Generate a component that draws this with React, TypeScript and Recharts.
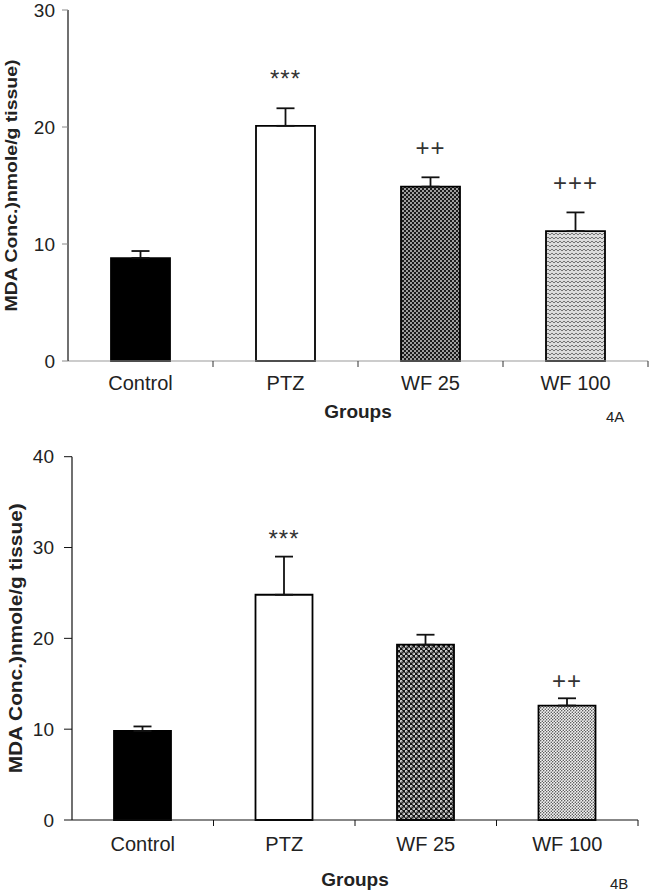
import React from 'react';
import { BarChart, Bar, Cell, XAxis, YAxis, ErrorBar, LabelList, Label } from 'recharts';

const groups = ['Control', 'PTZ', 'WF 25', 'WF 100'];

// 4A
const meansA = [8.8, 20.1, 14.9, 11.1];
const errsA = [0.6, 1.5, 0.8, 1.6];
const sigA = ['', '***', '++', '+++'];
const ticksA = [0, 10, 20, 30];

// 4B
const meansB = [9.8, 24.8, 19.3, 12.6];
const errsB = [0.5, 4.2, 1.1, 0.8];
const sigB = ['', '***', '', '++'];
const ticksB = [0, 10, 20, 30, 40];

const FONT = '"Liberation Sans", Arial, sans-serif';
const TITLE = 'MDA Conc.)nmole/g tissue)';

const buildRows = (means: number[], errs: number[], sig: string[]) =>
  groups.map((g, i) => ({ group: g, mean: means[i], err: [0, errs[i]], sig: sig[i] }));

// category label + tick mark on the right edge of each band
const CatTick = (props: any) => {
  const { x, y, payload, width, visibleTicksCount, labelDy, markColor } = props;
  let half = payload && payload.offset;
  if (!half) half = width && visibleTicksCount ? width / visibleTicksCount / 2 : 72;
  return (
    <g>
      <line x1={x + half} x2={x + half} y1={y} y2={y + 6} stroke={markColor} strokeWidth={1} />
      <text x={x} y={y + labelDy} textAnchor="middle" fontSize={20} fontFamily={FONT} fill="#222">
        {payload.value}
      </text>
    </g>
  );
};

const makeSig = (means: number[], errs: number[], gap: number) => (props: any) => {
  const { index, value } = props;
  if (!value) return null;
  const vb = props.viewBox || props;
  const { x, y, width, height } = vb;
  const perUnit = height / means[index];
  const top = y - errs[index] * perUnit;
  return (
    <text
      x={x + width / 2}
      y={top - gap}
      textAnchor="middle"
      dominantBaseline="central"
      fontSize={24}
      letterSpacing={1}
      fontFamily={FONT}
      fill="#333"
    >
      {value}
    </text>
  );
};

interface PanelProps {
  means: number[];
  errs: number[];
  sig: string[];
  ticks: number[];
  height: number;
  margin: { top: number; right: number; left: number; bottom: number };
  yWidth: number;
  xHeight: number;
  barSize: number;
  fills: string[];
  xLine: string;
  yTickLine: string;
  markColor: string;
  labelDy: number;
  groupsDy: number;
  sigGap: number;
  titleX: number;
  titleLen: number;
  titleSize: number;
  yTickSize: number;
  yTickMargin: number;
  tag: string;
  tagX: number;
  tagY: number;
  defs: React.ReactNode;
}

const Panel = (p: PanelProps) => {
  const rows = buildRows(p.means, p.errs, p.sig);
  const max = p.ticks[p.ticks.length - 1];
  return (
    <BarChart width={649} height={p.height} data={rows} margin={p.margin} barCategoryGap={0}>
      <defs>{p.defs}</defs>
      <XAxis
        dataKey="group"
        height={p.xHeight}
        axisLine={{ stroke: p.xLine, strokeWidth: 1.2 }}
        tickLine={false}
        tickSize={0}
        tickMargin={0}
        interval={0}
        tick={(t: any) => <CatTick {...t} labelDy={p.labelDy} markColor={p.markColor} />}
      >
        <Label
          content={(lp: any) => {
            const vb = lp.viewBox;
            return (
              <text x={vb.x + vb.width / 2} y={vb.y + p.groupsDy} textAnchor="middle" fontSize={19}
                fontWeight="bold" fontFamily={FONT} fill="#222">Groups</text>
            );
          }}
        />
      </XAxis>
      <YAxis
        width={p.yWidth}
        domain={[0, max]}
        ticks={p.ticks}
        interval={0}
        axisLine={{ stroke: '#111', strokeWidth: 1.2 }}
        tickLine={{ stroke: p.yTickLine }}
        tickSize={p.yTickSize}
        tickMargin={p.yTickMargin}
        tick={{ fontSize: 19, fontFamily: FONT, fill: '#222' }}
      >
        <Label
          content={(lp: any) => {
            const vb = lp.viewBox;
            const cy = vb.y + vb.height / 2;
            return (
              <text x={p.titleX} y={cy} transform={`rotate(-90 ${p.titleX} ${cy})`} textAnchor="middle"
                dominantBaseline="central" fontSize={p.titleSize} fontWeight="bold" fontFamily={FONT}
                fill="#222" textLength={p.titleLen} lengthAdjust="spacingAndGlyphs">{TITLE}</text>
            );
          }}
        />
      </YAxis>
      <Bar dataKey="mean" barSize={p.barSize} stroke="#000" strokeWidth={1.8} isAnimationActive={false}>
        {rows.map((r, i) => (
          <Cell key={r.group} fill={p.fills[i]} />
        ))}
        <ErrorBar dataKey="err" direction="y" width={9} stroke="#111" strokeWidth={1.8} />
        <LabelList dataKey="sig" content={makeSig(p.means, p.errs, p.sigGap)} />
      </Bar>
      <text x={p.tagX} y={p.tagY} fontSize={15} fontFamily={FONT} fill="#222">{p.tag}</text>
    </BarChart>
  );
};

const defsA = (
  <>
    <pattern id="a25" width={4} height={4} patternUnits="userSpaceOnUse">
      <rect width={4} height={4} fill="#1c1c1c" />
      <circle cx={1} cy={1} r={0.95} fill="#d8d8d8" />
      <circle cx={3} cy={3} r={0.95} fill="#d8d8d8" />
    </pattern>
    <pattern id="a100" width={4} height={4} patternUnits="userSpaceOnUse">
      <rect width={4} height={4} fill="#dcdcdc" />
      <path d="M0,1 L2,3 L4,1" fill="none" stroke="#6a6a6a" strokeWidth={0.9} />
    </pattern>
  </>
);

const defsB = (
  <>
    <pattern id="b25" width={5} height={5} patternUnits="userSpaceOnUse">
      <rect width={5} height={5} fill="#141414" />
      <circle cx={1.25} cy={1.25} r={1.3} fill="#e6e6e6" />
      <circle cx={3.75} cy={3.75} r={1.3} fill="#e6e6e6" />
      <circle cx={1.25} cy={1.25} r={0.45} fill="#222" />
      <circle cx={3.75} cy={3.75} r={0.45} fill="#222" />
    </pattern>
    <pattern id="b100" width={3} height={3} patternUnits="userSpaceOnUse">
      <rect width={3} height={3} fill="#f4f4f4" />
      <circle cx={0.75} cy={0.75} r={0.7} fill="#333" />
      <circle cx={2.25} cy={2.25} r={0.7} fill="#333" />
    </pattern>
  </>
);

export default function App() {
  return (
    <div style={{ position: 'absolute', left: 0, top: 0, width: 649, height: 893, background: '#fff', overflow: 'hidden' }}>
      <div style={{ position: 'absolute', left: 0, top: 0 }}>
        <Panel
          means={meansA}
          errs={errsA}
          sig={sigA}
          ticks={ticksA}
          height={430}
          margin={{ top: 10, right: 1, left: 0, bottom: 0 }}
          yWidth={68}
          xHeight={69}
          barSize={59}
          fills={['#000', '#fff', 'url(#a25)', 'url(#a100)']}
          xLine="#999"
          yTickLine="#888"
          markColor="#333"
          labelDy={29}
          groupsDy={57}
          sigGap={30}
          titleX={11}
          titleLen={252}
          titleSize={17}
          yTickSize={6}
          yTickMargin={7}
          tag="4A"
          tagX={606}
          tagY={422}
          defs={defsA}
        />
      </div>
      <div style={{ position: 'absolute', left: 0, top: 440 }}>
        <Panel
          means={meansB}
          errs={errsB}
          sig={sigB}
          ticks={ticksB}
          height={453}
          margin={{ top: 16.7, right: 11, left: 0, bottom: 0 }}
          yWidth={72}
          xHeight={73}
          barSize={57}
          fills={['#000', '#fff', 'url(#b25)', 'url(#b100)']}
          xLine="#111"
          yTickLine="#111"
          markColor="#111"
          labelDy={31}
          groupsDy={66}
          sigGap={18}
          titleX={16}
          titleLen={270}
          titleSize={18}
          yTickSize={8}
          yTickMargin={10}
          tag="4B"
          tagX={610}
          tagY={449}
          defs={defsB}
        />
      </div>
    </div>
  );
}
